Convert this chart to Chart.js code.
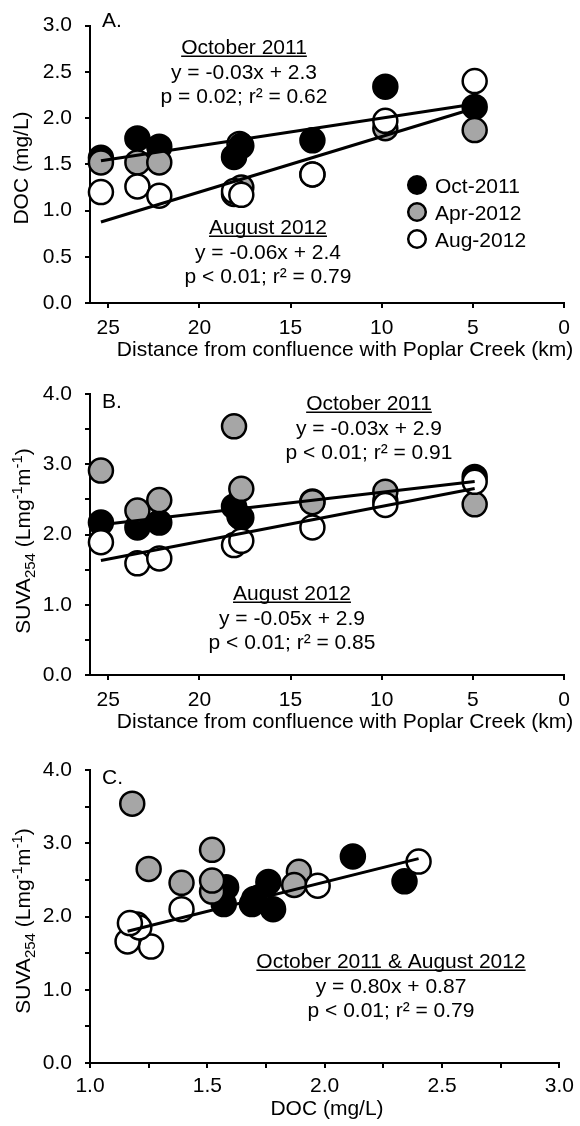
<!DOCTYPE html>
<html>
<head>
<meta charset="utf-8">
<script src="https://cdn.jsdelivr.net/npm/chart.js@4.4.0/dist/chart.umd.min.js"></script>
<style>
  html, body { margin: 0; padding: 0; background: #fff; }
  #wrap { position: relative; width: 580px; height: 1126px; }
  .panel { position: absolute; left: 0; width: 580px; }
  canvas { display: block; }
</style>
</head>
<body>
<div id="wrap">
  <div class="panel" style="top:0"><canvas id="chartA" width="580" height="365"></canvas></div>
  <div class="panel" style="top:365px"><canvas id="chartB" width="580" height="375"></canvas></div>
  <div class="panel" style="top:740px"><canvas id="chartC" width="580" height="386"></canvas></div>
</div>
<script>
// sampling sites, km upstream of the Poplar Creek confluence
const distance = [25.4, 23.4, 22.2, 18.1, 17.7, 13.8, 9.8, 4.9];

// DOC (mg/L) per campaign
const docOct2011 = [1.57, 1.78, 1.69, 1.58, 1.70, 1.76, 2.34, 2.12];
const docApr2012 = [1.52, 1.52, 1.52, 1.18, 1.25, 1.39, 1.89, 1.87];
const docAug2012 = [1.20, 1.26, 1.16, 1.21, 1.17, 1.39, 1.97, 2.40];

// SUVA254 (L mg-1 m-1) per campaign
const suvaOct2011 = [2.17, 2.10, 2.17, 2.40, 2.24, 2.47, 2.48, 2.82];
const suvaApr2012 = [2.91, 2.34, 2.49, 3.54, 2.65, 2.46, 2.61, 2.43];
const suvaAug2012 = [1.89, 1.59, 1.66, 1.85, 1.91, 2.10, 2.42, 2.75];

// extra open sample sitting behind the 17.7 km point
const extraDistance = [17.8];
const extraDoc = [1.72];
const extraSuva = [2.26];

const campaigns = ['Oct-2011', 'Apr-2012', 'Aug-2012'];

// regression results as reported
const fitDocOct = { title: 'October 2011', slope: -0.03, intercept: 2.3, dp: 1, p: '= 0.02', r2: 0.62 };
const fitDocAug = { title: 'August 2012', slope: -0.06, intercept: 2.4, dp: 1, p: '< 0.01', r2: 0.79 };
const fitSuvaOct = { title: 'October 2011', slope: -0.03, intercept: 2.9, dp: 1, p: '< 0.01', r2: 0.91 };
const fitSuvaAug = { title: 'August 2012', slope: -0.05, intercept: 2.9, dp: 1, p: '< 0.01', r2: 0.85 };
const fitSuvaDoc = { title: 'October 2011 & August 2012', slope: 0.80, intercept: 0.87, dp: 2, p: '< 0.01', r2: 0.79 };

const FONT = '"Liberation Sans", Arial, sans-serif';
const FS = 21;
const FILL = { 'Oct-2011': '#000000', 'Apr-2012': '#a6a6a6', 'Aug-2012': '#ffffff' };

function pts(xs, ys) {
    return xs.map((x, i) => ({ x: x, y: ys[i] }));
}

function markers(label, xs, ys, fill, order) {
    return {
        label: label,
        data: pts(xs, ys),
        backgroundColor: fill,
        borderColor: '#000',
        borderWidth: 2.5,
        pointRadius: 12,
        pointHoverRadius: 12,
        showLine: false,
        order: order,
        clip: false
    };
}

// straight fit line across the range of the fitted x values
function trend(fit, xs) {
    const lo = Math.min(...xs), hi = Math.max(...xs);
    return {
        label: fit.title,
        data: [lo, hi].map(x => ({ x: x, y: fit.slope * x + fit.intercept })),
        showLine: true,
        borderColor: '#000',
        borderWidth: 3,
        pointRadius: 0,
        order: 0,
        clip: false
    };
}

function eqText(f) {
    const sign = f.intercept < 0 ? ' - ' : ' + ';
    return 'y = ' + f.slope.toFixed(2) + 'x' + sign + Math.abs(f.intercept).toFixed(f.dp);
}

function statText(f) {
    return 'p ' + f.p + '; r\u00b2 = ' + f.r2.toFixed(2);
}

function plain(str, size) {
    return [{ t: str, size: size || FS, dy: 0 }];
}

const suvaTitle = [
    { t: 'SUVA', size: FS, dy: 0 },
    { t: '254', size: 15, dy: 5 },
    { t: ' (Lmg', size: FS, dy: 0 },
    { t: '-1', size: 15, dy: -8 },
    { t: 'm', size: FS, dy: 0 },
    { t: '-1', size: 15, dy: -8 },
    { t: ')', size: FS, dy: 0 }
];

// three centred lines: underlined heading, equation, stats
function fitBlock(f, x, y) {
    return [
        { parts: plain(f.title), x: x, y: y, underline: true },
        { parts: plain(eqText(f)), x: x, y: y + 25 },
        { parts: plain(statText(f)), x: x, y: y + 49 }
    ];
}

function drawRich(ctx, item) {
    ctx.save();
    ctx.translate(item.x, item.y);
    if (item.rotate) ctx.rotate(-Math.PI / 2);
    let w = 0;
    item.parts.forEach(p => {
        ctx.font = p.size + 'px ' + FONT;
        w += ctx.measureText(p.t).width;
    });
    let cx = item.align === 'left' ? 0 : -w / 2;
    const x0 = cx;
    ctx.textAlign = 'left';
    ctx.textBaseline = 'alphabetic';
    item.parts.forEach(p => {
        ctx.font = p.size + 'px ' + FONT;
        ctx.fillText(p.t, cx, 7.5 + p.dy);
        cx += ctx.measureText(p.t).width;
    });
    if (item.underline) ctx.fillRect(x0, 9.5, w, 1.5);
    ctx.restore();
}

const panelText = {
    id: 'panelText',
    afterDraw(chart, args, opts) {
        const ctx = chart.ctx;
        ctx.save();
        ctx.fillStyle = '#000';
        (opts.texts || []).forEach(t => drawRich(ctx, t));
        (opts.legend || []).forEach(l => {
            ctx.beginPath();
            ctx.arc(l.x, l.y, 8.8, 0, Math.PI * 2);
            ctx.fillStyle = FILL[l.label];
            ctx.fill();
            ctx.lineWidth = 2.5;
            ctx.strokeStyle = '#000';
            ctx.stroke();
            ctx.fillStyle = '#000';
            drawRich(ctx, { parts: plain(l.label), x: l.x + 18, y: l.y, align: 'left' });
        });
        ctx.restore();
    }
};

function onStep(v, step) {
    const r = v / step;
    return Math.abs(r - Math.round(r)) < 1e-6;
}

function linAxis(o) {
    return {
        type: 'linear',
        min: o.min,
        max: o.max,
        reverse: !!o.reverse,
        afterFit: s => {
            if (o.width) s.width = o.width;
            if (o.height) s.height = o.height;
        },
        grid: { drawOnChartArea: false, drawTicks: true, tickLength: 5, color: '#000', lineWidth: 2 },
        border: { display: true, color: '#000', width: 2 },
        ticks: {
            stepSize: o.step,
            includeBounds: false,
            autoSkip: false,
            maxRotation: 0,
            minRotation: 0,
            padding: o.pad,
            color: '#000',
            font: { family: FONT, size: FS },
            callback: v => onStep(v, o.labelStep) ? v.toFixed(o.dp) : ''
        }
    };
}

function makePanel(canvasId, cfg) {
    const ctx = document.getElementById(canvasId).getContext('2d');
    return new Chart(ctx, {
        type: 'scatter',
        data: { datasets: cfg.datasets },
        options: {
            responsive: false,
            animation: false,
            events: [],
            layout: { padding: { left: 0, top: cfg.top, right: cfg.right, bottom: 0 } },
            scales: { x: cfg.x, y: cfg.y },
            plugins: {
                legend: { display: false },
                tooltip: { enabled: false },
                panelText: { texts: cfg.texts, legend: cfg.legend || [] }
            }
        },
        plugins: [panelText]
    });
}

// A. DOC along the creek
makePanel('chartA', {
    top: 19, right: 16,
    x: linAxis({ min: 0, max: 26, step: 5, labelStep: 5, dp: 0, reverse: true, height: 62, pad: 8 }),
    y: linAxis({ min: 0, max: 3, step: 0.5, labelStep: 0.5, dp: 1, width: 90, pad: 13 }),
    datasets: [
        trend(fitDocOct, distance),
        trend(fitDocAug, distance),
        markers('Aug-2012', distance, docAug2012, FILL['Aug-2012'], 1),
        markers('Apr-2012', distance, docApr2012, FILL['Apr-2012'], 2),
        markers('Oct-2011', distance, docOct2011, FILL['Oct-2011'], 3),
        markers('', extraDistance, extraDoc, '#ffffff', 4)
    ],
    texts: [
        { parts: plain('A.'), x: 102, y: 19, align: 'left' },
        { parts: plain('DOC (mg/L)'), x: 20, y: 168, rotate: true },
        { parts: plain('Distance from confluence with Poplar Creek (km)'), x: 345, y: 348 }
    ].concat(fitBlock(fitDocOct, 244, 46), fitBlock(fitDocAug, 268, 226)),
    legend: campaigns.map((c, i) => ({ label: c, x: 417, y: 185 + i * 27 }))
});

// B. SUVA254 along the creek
makePanel('chartB', {
    top: 29, right: 16,
    x: linAxis({ min: 0, max: 26, step: 5, labelStep: 5, dp: 0, reverse: true, height: 65, pad: 8 }),
    y: linAxis({ min: 0, max: 4, step: 0.5, labelStep: 1, dp: 1, width: 90, pad: 13 }),
    datasets: [
        trend(fitSuvaOct, distance),
        trend(fitSuvaAug, distance),
        markers('Aug-2012', distance, suvaAug2012, FILL['Aug-2012'], 1),
        markers('Apr-2012', distance, suvaApr2012, FILL['Apr-2012'], 2),
        markers('Oct-2011', distance, suvaOct2011, FILL['Oct-2011'], 3),
        markers('', extraDistance, extraSuva, '#ffffff', 4)
    ],
    texts: [
        { parts: plain('B.'), x: 102, y: 35, align: 'left' },
        { parts: suvaTitle, x: 22, y: 176, rotate: true },
        { parts: plain('Distance from confluence with Poplar Creek (km)'), x: 345, y: 355 }
    ].concat(fitBlock(fitSuvaOct, 369, 37), fitBlock(fitSuvaAug, 292, 227))
});

// C. SUVA254 against DOC
makePanel('chartC', {
    top: 30, right: 15,
    x: linAxis({ min: 1, max: 3, step: 0.25, labelStep: 0.5, dp: 1, height: 63, pad: 6 }),
    y: linAxis({ min: 0, max: 4, step: 0.5, labelStep: 1, dp: 1, width: 90, pad: 13 }),
    datasets: [
        trend(fitSuvaDoc, docOct2011.concat(docAug2012)),
        markers('Aug-2012', docAug2012, suvaAug2012, FILL['Aug-2012'], 1),
        markers('Apr-2012', docApr2012, suvaApr2012, FILL['Apr-2012'], 2),
        markers('Oct-2011', docOct2011, suvaOct2011, FILL['Oct-2011'], 3),
        markers('', extraDoc, extraSuva, '#ffffff', 4)
    ],
    texts: [
        { parts: plain('C.'), x: 102, y: 36, align: 'left' },
        { parts: suvaTitle, x: 22, y: 181, rotate: true },
        { parts: plain('DOC (mg/L)'), x: 327, y: 367 }
    ].concat(fitBlock(fitSuvaDoc, 391, 220))
});
</script>
</body>
</html>
